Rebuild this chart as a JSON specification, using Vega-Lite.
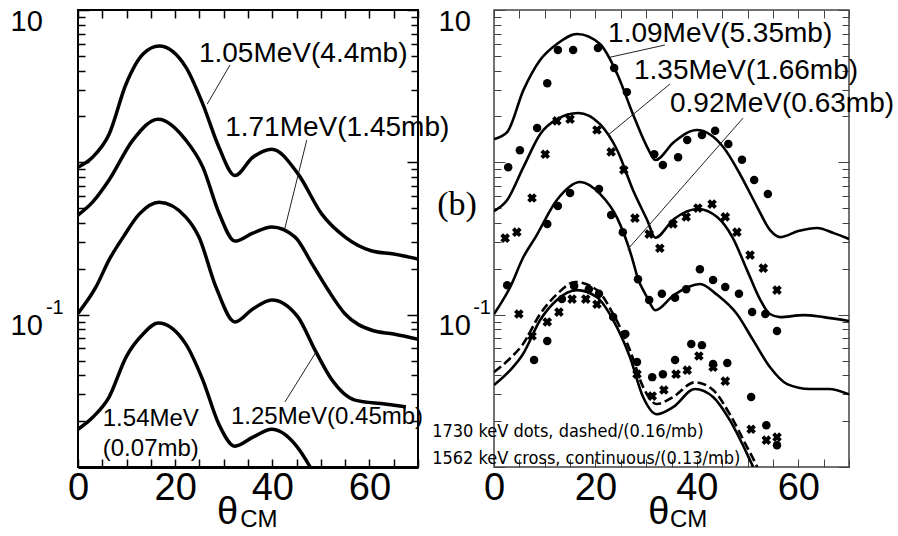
{
  "$schema": "https://vega.github.io/schema/vega-lite/v6.json",
  "padding": {"left": 5, "top": 6, "right": 0, "bottom": 0},
  "spacing": 76,
  "bounds": "flush",
  "config": {"font": "Liberation Sans", "axis": {"grid": false}, "view": {"stroke": null}},
  "datasets": {
    "left_curves": [
      {"E": "1.05 MeV", "x": 0, "y": 0.93}, {"E": "1.05 MeV", "x": 3, "y": 1.08}, {"E": "1.05 MeV", "x": 6.4, "y": 1.53}, {"E": "1.05 MeV", "x": 9.9, "y": 3.27}, {"E": "1.05 MeV", "x": 13.4, "y": 5.14}, {"E": "1.05 MeV", "x": 16.7, "y": 5.8}, {"E": "1.05 MeV", "x": 22.2, "y": 4.22}, {"E": "1.05 MeV", "x": 25.7, "y": 2.41}, {"E": "1.05 MeV", "x": 29, "y": 1.26}, {"E": "1.05 MeV", "x": 32.3, "y": 0.82}, {"E": "1.05 MeV", "x": 36, "y": 1.08}, {"E": "1.05 MeV", "x": 39.9, "y": 1.22}, {"E": "1.05 MeV", "x": 45.3, "y": 0.84}, {"E": "1.05 MeV", "x": 50.2, "y": 0.457}, {"E": "1.05 MeV", "x": 55, "y": 0.323}, {"E": "1.05 MeV", "x": 60.5, "y": 0.262}, {"E": "1.05 MeV", "x": 65, "y": 0.25}, {"E": "1.05 MeV", "x": 70, "y": 0.232},
      {"E": "1.71 MeV", "x": 0, "y": 0.451}, {"E": "1.71 MeV", "x": 3, "y": 0.548}, {"E": "1.71 MeV", "x": 6.4, "y": 0.766}, {"E": "1.71 MeV", "x": 11.3, "y": 1.4}, {"E": "1.71 MeV", "x": 16.5, "y": 1.92}, {"E": "1.71 MeV", "x": 22.2, "y": 1.4}, {"E": "1.71 MeV", "x": 25.7, "y": 0.93}, {"E": "1.71 MeV", "x": 29, "y": 0.467}, {"E": "1.71 MeV", "x": 32.3, "y": 0.304}, {"E": "1.71 MeV", "x": 36, "y": 0.343}, {"E": "1.71 MeV", "x": 39.9, "y": 0.376}, {"E": "1.71 MeV", "x": 44.7, "y": 0.323}, {"E": "1.71 MeV", "x": 48.2, "y": 0.215}, {"E": "1.71 MeV", "x": 51.5, "y": 0.145}, {"E": "1.71 MeV", "x": 55, "y": 0.101}, {"E": "1.71 MeV", "x": 60.5, "y": 0.079}, {"E": "1.71 MeV", "x": 65, "y": 0.0746}, {"E": "1.71 MeV", "x": 70, "y": 0.069},
      {"E": "1.25 MeV", "x": 0, "y": 0.102}, {"E": "1.25 MeV", "x": 3.7, "y": 0.152}, {"E": "1.25 MeV", "x": 6.4, "y": 0.229}, {"E": "1.25 MeV", "x": 9.3, "y": 0.323}, {"E": "1.25 MeV", "x": 12.6, "y": 0.457}, {"E": "1.25 MeV", "x": 16.7, "y": 0.547}, {"E": "1.25 MeV", "x": 22.2, "y": 0.437}, {"E": "1.25 MeV", "x": 24.9, "y": 0.323}, {"E": "1.25 MeV", "x": 28.4, "y": 0.152}, {"E": "1.25 MeV", "x": 32.3, "y": 0.0895}, {"E": "1.25 MeV", "x": 36, "y": 0.109}, {"E": "1.25 MeV", "x": 39.9, "y": 0.125}, {"E": "1.25 MeV", "x": 45.3, "y": 0.0964}, {"E": "1.25 MeV", "x": 48.8, "y": 0.0585}, {"E": "1.25 MeV", "x": 52.3, "y": 0.0372}, {"E": "1.25 MeV", "x": 57, "y": 0.0275}, {"E": "1.25 MeV", "x": 63.2, "y": 0.0259}, {"E": "1.25 MeV", "x": 67.5, "y": 0.0248},
      {"E": "1.54 MeV", "x": 0, "y": 0.0177}, {"E": "1.54 MeV", "x": 3.1, "y": 0.0213}, {"E": "1.54 MeV", "x": 6.4, "y": 0.0288}, {"E": "1.54 MeV", "x": 9.9, "y": 0.0527}, {"E": "1.54 MeV", "x": 13.4, "y": 0.0746}, {"E": "1.54 MeV", "x": 16.5, "y": 0.0881}, {"E": "1.54 MeV", "x": 22.2, "y": 0.0641}, {"E": "1.54 MeV", "x": 25.7, "y": 0.0372}, {"E": "1.54 MeV", "x": 29, "y": 0.0191}, {"E": "1.54 MeV", "x": 32.3, "y": 0.0137}, {"E": "1.54 MeV", "x": 36, "y": 0.0157}, {"E": "1.54 MeV", "x": 39.9, "y": 0.0177}, {"E": "1.54 MeV", "x": 44.7, "y": 0.0141}, {"E": "1.54 MeV", "x": 47.8, "y": 0.01}, {"E": "1.54 MeV", "x": 49.5, "y": 0.0079}
    ],
    "left_leaders": [
      {"x": 31.3, "y": 4.36, "x2": 26.6, "y2": 2.41},
      {"x": 47.1, "y": 1.4, "x2": 42.6, "y2": 0.37},
      {"x": 42.6, "y": 0.0267, "x2": 49.0, "y2": 0.0568}
    ],
    "left_big_labels": [
      {"t": "1.05MeV(4.4mb)", "x": 24.9, "y": 4.56},
      {"t": "1.71MeV(1.45mb)", "x": 30.3, "y": 1.49}
    ],
    "left_small_labels": [
      {"t": "1.25MeV(0.45mb)", "x": 31.5, "y": 0.0191},
      {"t": "1.54MeV", "x": 5.1, "y": 0.0185},
      {"t": "(0.07mb)", "x": 5.1, "y": 0.0118},
      {"t": "CM", "x": 33.4, "y": 0.00403}
    ],
    "left_theta": [{"t": "θ", "x": 28.6, "y": 0.00422}],
    "left_exponent": [{"t": "-1", "x": -6.6, "y": 0.101}],
    "right_curves": [
      {"E": "1.09 MeV", "x": 0, "y": 1.42}, {"E": "1.09 MeV", "x": 2.6, "y": 1.58}, {"E": "1.09 MeV", "x": 5.8, "y": 2.98}, {"E": "1.09 MeV", "x": 9.1, "y": 4.7}, {"E": "1.09 MeV", "x": 12.4, "y": 5.98}, {"E": "1.09 MeV", "x": 16.4, "y": 6.96}, {"E": "1.09 MeV", "x": 20.9, "y": 5.98}, {"E": "1.09 MeV", "x": 24.3, "y": 3.8}, {"E": "1.09 MeV", "x": 27.4, "y": 2.07}, {"E": "1.09 MeV", "x": 30.2, "y": 1.26}, {"E": "1.09 MeV", "x": 31.8, "y": 1.035}, {"E": "1.09 MeV", "x": 35.5, "y": 1.36}, {"E": "1.09 MeV", "x": 40, "y": 1.63}, {"E": "1.09 MeV", "x": 45.2, "y": 1.26}, {"E": "1.09 MeV", "x": 48.5, "y": 0.838}, {"E": "1.09 MeV", "x": 51.9, "y": 0.509}, {"E": "1.09 MeV", "x": 54.4, "y": 0.36}, {"E": "1.09 MeV", "x": 56.4, "y": 0.323}, {"E": "1.09 MeV", "x": 60, "y": 0.354}, {"E": "1.09 MeV", "x": 63.7, "y": 0.371}, {"E": "1.09 MeV", "x": 67, "y": 0.343}, {"E": "1.09 MeV", "x": 70, "y": 0.314},
      {"E": "1.35 MeV", "x": 0, "y": 0.479}, {"E": "1.35 MeV", "x": 2.6, "y": 0.566}, {"E": "1.35 MeV", "x": 5.8, "y": 0.93}, {"E": "1.35 MeV", "x": 9.1, "y": 1.53}, {"E": "1.35 MeV", "x": 12.4, "y": 1.92}, {"E": "1.35 MeV", "x": 16.6, "y": 2.11}, {"E": "1.35 MeV", "x": 20.9, "y": 1.78}, {"E": "1.35 MeV", "x": 24.3, "y": 1.2}, {"E": "1.35 MeV", "x": 27.4, "y": 0.658}, {"E": "1.35 MeV", "x": 30.2, "y": 0.418}, {"E": "1.35 MeV", "x": 31.8, "y": 0.32}, {"E": "1.35 MeV", "x": 35.5, "y": 0.425}, {"E": "1.35 MeV", "x": 40.2, "y": 0.494}, {"E": "1.35 MeV", "x": 44, "y": 0.437}, {"E": "1.35 MeV", "x": 47, "y": 0.323}, {"E": "1.35 MeV", "x": 49.9, "y": 0.196}, {"E": "1.35 MeV", "x": 52.5, "y": 0.125}, {"E": "1.35 MeV", "x": 54.4, "y": 0.101}, {"E": "1.35 MeV", "x": 56.4, "y": 0.0964}, {"E": "1.35 MeV", "x": 61, "y": 0.0993}, {"E": "1.35 MeV", "x": 65, "y": 0.0964}, {"E": "1.35 MeV", "x": 70, "y": 0.0908},
      {"E": "0.92 MeV", "x": 0, "y": 0.101}, {"E": "0.92 MeV", "x": 3.2, "y": 0.152}, {"E": "0.92 MeV", "x": 5.8, "y": 0.239}, {"E": "0.92 MeV", "x": 8.2, "y": 0.323}, {"E": "0.92 MeV", "x": 12.4, "y": 0.566}, {"E": "0.92 MeV", "x": 17, "y": 0.743}, {"E": "0.92 MeV", "x": 20.9, "y": 0.62}, {"E": "0.92 MeV", "x": 24.3, "y": 0.43}, {"E": "0.92 MeV", "x": 27.4, "y": 0.225}, {"E": "0.92 MeV", "x": 28.2, "y": 0.18}, {"E": "0.92 MeV", "x": 30.2, "y": 0.13}, {"E": "0.92 MeV", "x": 31.8, "y": 0.107}, {"E": "0.92 MeV", "x": 35.5, "y": 0.135}, {"E": "0.92 MeV", "x": 40.6, "y": 0.159}, {"E": "0.92 MeV", "x": 44, "y": 0.135}, {"E": "0.92 MeV", "x": 47.9, "y": 0.101}, {"E": "0.92 MeV", "x": 51.1, "y": 0.068}, {"E": "0.92 MeV", "x": 54.4, "y": 0.0453}, {"E": "0.92 MeV", "x": 57.8, "y": 0.035}, {"E": "0.92 MeV", "x": 62.3, "y": 0.0325}, {"E": "0.92 MeV", "x": 66, "y": 0.0325}, {"E": "0.92 MeV", "x": 70, "y": 0.03},
      {"E": "1562 keV", "x": 0, "y": 0.0345}, {"E": "1562 keV", "x": 3.2, "y": 0.0432}, {"E": "1562 keV", "x": 5.7, "y": 0.055}, {"E": "1562 keV", "x": 9.1, "y": 0.0922}, {"E": "1562 keV", "x": 12.4, "y": 0.125}, {"E": "1562 keV", "x": 16.4, "y": 0.145}, {"E": "1562 keV", "x": 20.3, "y": 0.13}, {"E": "1562 keV", "x": 23.5, "y": 0.0922}, {"E": "1562 keV", "x": 26.8, "y": 0.0527}, {"E": "1562 keV", "x": 29.4, "y": 0.0288}, {"E": "1562 keV", "x": 32.1, "y": 0.0222}, {"E": "1562 keV", "x": 35.3, "y": 0.0247}, {"E": "1562 keV", "x": 39.6, "y": 0.0325}, {"E": "1562 keV", "x": 43.2, "y": 0.0288}, {"E": "1562 keV", "x": 46.5, "y": 0.0203}, {"E": "1562 keV", "x": 49.9, "y": 0.0122}, {"E": "1562 keV", "x": 51.1, "y": 0.01}, {"E": "1562 keV", "x": 52.5, "y": 0.0079},
      {"E": "1730 keV", "x": 0, "y": 0.042}, {"E": "1730 keV", "x": 3, "y": 0.051}, {"E": "1730 keV", "x": 5.7, "y": 0.064}, {"E": "1730 keV", "x": 9.1, "y": 0.101}, {"E": "1730 keV", "x": 12.4, "y": 0.136}, {"E": "1730 keV", "x": 16, "y": 0.164}, {"E": "1730 keV", "x": 20.3, "y": 0.145}, {"E": "1730 keV", "x": 23.5, "y": 0.101}, {"E": "1730 keV", "x": 26.8, "y": 0.0586}, {"E": "1730 keV", "x": 29.4, "y": 0.0335}, {"E": "1730 keV", "x": 32.1, "y": 0.0259}, {"E": "1730 keV", "x": 35.3, "y": 0.0288}, {"E": "1730 keV", "x": 39.6, "y": 0.036}, {"E": "1730 keV", "x": 43.2, "y": 0.032}, {"E": "1730 keV", "x": 46.5, "y": 0.0222}, {"E": "1730 keV", "x": 49.9, "y": 0.0135}, {"E": "1730 keV", "x": 51.6, "y": 0.0105}, {"E": "1730 keV", "x": 53, "y": 0.0082}
    ],
    "right_points": [
      {"E": "1.09 MeV", "kind": "dot", "x": 2.8, "y": 0.929}, {"E": "1.09 MeV", "kind": "dot", "x": 5.1, "y": 1.2}, {"E": "1.09 MeV", "kind": "dot", "x": 8.5, "y": 1.68}, {"E": "1.09 MeV", "kind": "dot", "x": 10.5, "y": 3.31}, {"E": "1.09 MeV", "kind": "dot", "x": 12.6, "y": 5.46}, {"E": "1.09 MeV", "kind": "dot", "x": 15.6, "y": 5.46}, {"E": "1.09 MeV", "kind": "dot", "x": 20.5, "y": 5.63}, {"E": "1.09 MeV", "kind": "dot", "x": 23.7, "y": 4.16}, {"E": "1.09 MeV", "kind": "dot", "x": 26.2, "y": 2.89}, {"E": "1.09 MeV", "kind": "dot", "x": 31.6, "y": 1.13}, {"E": "1.09 MeV", "kind": "dot", "x": 33.3, "y": 0.96}, {"E": "1.09 MeV", "kind": "dot", "x": 36.3, "y": 1.08}, {"E": "1.09 MeV", "kind": "dot", "x": 38.1, "y": 1.4}, {"E": "1.09 MeV", "kind": "dot", "x": 41.0, "y": 1.51}, {"E": "1.09 MeV", "kind": "dot", "x": 43.6, "y": 1.61}, {"E": "1.09 MeV", "kind": "dot", "x": 46.2, "y": 1.32}, {"E": "1.09 MeV", "kind": "dot", "x": 48.9, "y": 1.04}, {"E": "1.09 MeV", "kind": "dot", "x": 51.3, "y": 0.766}, {"E": "1.09 MeV", "kind": "dot", "x": 54.0, "y": 0.62},
      {"E": "1.35 MeV", "kind": "cross", "x": 2.2, "y": 0.318}, {"E": "1.35 MeV", "kind": "cross", "x": 4.5, "y": 0.348}, {"E": "1.35 MeV", "kind": "cross", "x": 7.5, "y": 0.583}, {"E": "1.35 MeV", "kind": "cross", "x": 10.1, "y": 1.13}, {"E": "1.35 MeV", "kind": "cross", "x": 12.4, "y": 1.87}, {"E": "1.35 MeV", "kind": "cross", "x": 15.0, "y": 1.92}, {"E": "1.35 MeV", "kind": "cross", "x": 20.3, "y": 1.63}, {"E": "1.35 MeV", "kind": "cross", "x": 23.1, "y": 1.17}, {"E": "1.35 MeV", "kind": "cross", "x": 25.6, "y": 0.89}, {"E": "1.35 MeV", "kind": "cross", "x": 27.8, "y": 0.43}, {"E": "1.35 MeV", "kind": "cross", "x": 30.6, "y": 0.338}, {"E": "1.35 MeV", "kind": "cross", "x": 32.7, "y": 0.273}, {"E": "1.35 MeV", "kind": "cross", "x": 35.3, "y": 0.394}, {"E": "1.35 MeV", "kind": "cross", "x": 37.9, "y": 0.438}, {"E": "1.35 MeV", "kind": "cross", "x": 40.2, "y": 0.501}, {"E": "1.35 MeV", "kind": "cross", "x": 43.0, "y": 0.532}, {"E": "1.35 MeV", "kind": "cross", "x": 45.6, "y": 0.438}, {"E": "1.35 MeV", "kind": "cross", "x": 47.9, "y": 0.348}, {"E": "1.35 MeV", "kind": "cross", "x": 50.5, "y": 0.246}, {"E": "1.35 MeV", "kind": "cross", "x": 53.1, "y": 0.202}, {"E": "1.35 MeV", "kind": "cross", "x": 55.8, "y": 0.145},
      {"E": "0.92 MeV", "kind": "dot", "x": 2.6, "y": 0.156}, {"E": "0.92 MeV", "kind": "dot", "x": 10.5, "y": 0.394}, {"E": "0.92 MeV", "kind": "dot", "x": 12.6, "y": 0.517}, {"E": "0.92 MeV", "kind": "dot", "x": 15.0, "y": 0.629}, {"E": "0.92 MeV", "kind": "dot", "x": 20.7, "y": 0.668}, {"E": "0.92 MeV", "kind": "dot", "x": 23.1, "y": 0.451}, {"E": "0.92 MeV", "kind": "dot", "x": 25.4, "y": 0.348}, {"E": "0.92 MeV", "kind": "dot", "x": 28.4, "y": 0.171}, {"E": "0.92 MeV", "kind": "dot", "x": 30.6, "y": 0.125}, {"E": "0.92 MeV", "kind": "dot", "x": 33.1, "y": 0.137}, {"E": "0.92 MeV", "kind": "dot", "x": 35.7, "y": 0.129}, {"E": "0.92 MeV", "kind": "dot", "x": 37.9, "y": 0.147}, {"E": "0.92 MeV", "kind": "dot", "x": 40.6, "y": 0.199}, {"E": "0.92 MeV", "kind": "dot", "x": 43.2, "y": 0.169}, {"E": "0.92 MeV", "kind": "dot", "x": 45.6, "y": 0.152}, {"E": "0.92 MeV", "kind": "dot", "x": 48.3, "y": 0.137}, {"E": "0.92 MeV", "kind": "dot", "x": 50.9, "y": 0.104}, {"E": "0.92 MeV", "kind": "dot", "x": 53.5, "y": 0.101}, {"E": "0.92 MeV", "kind": "dot", "x": 55.8, "y": 0.078},
      {"E": "1730 keV", "kind": "dot", "x": 7.9, "y": 0.0504}, {"E": "1730 keV", "kind": "dot", "x": 10.5, "y": 0.0671}, {"E": "1730 keV", "kind": "dot", "x": 13.4, "y": 0.1265}, {"E": "1730 keV", "kind": "dot", "x": 15.8, "y": 0.154}, {"E": "1730 keV", "kind": "dot", "x": 18.7, "y": 0.147}, {"E": "1730 keV", "kind": "dot", "x": 20.7, "y": 0.137}, {"E": "1730 keV", "kind": "dot", "x": 23.5, "y": 0.0964}, {"E": "1730 keV", "kind": "dot", "x": 25.9, "y": 0.0746}, {"E": "1730 keV", "kind": "dot", "x": 28.2, "y": 0.0489}, {"E": "1730 keV", "kind": "dot", "x": 31.2, "y": 0.0389}, {"E": "1730 keV", "kind": "dot", "x": 33.3, "y": 0.0407}, {"E": "1730 keV", "kind": "dot", "x": 35.7, "y": 0.0504}, {"E": "1730 keV", "kind": "dot", "x": 38.9, "y": 0.0641}, {"E": "1730 keV", "kind": "dot", "x": 41.0, "y": 0.0631}, {"E": "1730 keV", "kind": "dot", "x": 43.2, "y": 0.0474}, {"E": "1730 keV", "kind": "dot", "x": 46.0, "y": 0.0481}, {"E": "1730 keV", "kind": "dot", "x": 50.7, "y": 0.0288}, {"E": "1730 keV", "kind": "dot", "x": 53.7, "y": 0.0188}, {"E": "1730 keV", "kind": "dot", "x": 55.8, "y": 0.0139},
      {"E": "1562 keV", "kind": "cross", "x": 4.9, "y": 0.101}, {"E": "1562 keV", "kind": "cross", "x": 7.5, "y": 0.0724}, {"E": "1562 keV", "kind": "cross", "x": 10.5, "y": 0.0895}, {"E": "1562 keV", "kind": "cross", "x": 12.8, "y": 0.104}, {"E": "1562 keV", "kind": "cross", "x": 15.4, "y": 0.1265}, {"E": "1562 keV", "kind": "cross", "x": 18.1, "y": 0.1265}, {"E": "1562 keV", "kind": "cross", "x": 20.3, "y": 0.117}, {"E": "1562 keV", "kind": "cross", "x": 28.2, "y": 0.0407}, {"E": "1562 keV", "kind": "cross", "x": 31.2, "y": 0.0292}, {"E": "1562 keV", "kind": "cross", "x": 33.5, "y": 0.032}, {"E": "1562 keV", "kind": "cross", "x": 35.9, "y": 0.0407}, {"E": "1562 keV", "kind": "cross", "x": 38.1, "y": 0.0432}, {"E": "1562 keV", "kind": "cross", "x": 40.4, "y": 0.0535}, {"E": "1562 keV", "kind": "cross", "x": 43.2, "y": 0.0452}, {"E": "1562 keV", "kind": "cross", "x": 45.6, "y": 0.0366}, {"E": "1562 keV", "kind": "cross", "x": 50.7, "y": 0.0177}, {"E": "1562 keV", "kind": "cross", "x": 53.7, "y": 0.015}, {"E": "1562 keV", "kind": "cross", "x": 55.8, "y": 0.0157}
    ],
    "right_leaders": [
      {"x": 33.7, "y": 5.89, "x2": 22.9, "y2": 4.9},
      {"x": 34.7, "y": 3.27, "x2": 22.5, "y2": 1.51},
      {"x": 49.1, "y": 1.95, "x2": 26.4, "y2": 0.269}
    ],
    "right_big_labels": [
      {"t": "1.09MeV(5.35mb)", "x": 22.5, "y": 6.17},
      {"t": "1.35MeV(1.66mb)", "x": 27.6, "y": 3.52},
      {"t": "0.92MeV(0.63mb)", "x": 34.7, "y": 2.14}
    ],
    "right_notes": [
      {"t": "1730 keV dots, dashed/(0.16/mb)", "x": -12.2, "y": 0.0158},
      {"t": "1562 keV cross, continuous/(0.13/mb)", "x": -12.2, "y": 0.0104}
    ],
    "right_panel_tag": [{"t": "(b)", "x": -11.2, "y": 0.451}],
    "right_theta": [{"t": "θ", "x": 30.4, "y": 0.00422}],
    "right_sub": [{"t": "CM", "x": 34.7, "y": 0.00403}],
    "right_exponent": [{"t": "-1", "x": -4.1, "y": 0.101}]
  },
  "hconcat": [
    {
      "width": 340,
      "height": 457,
      "view": {"stroke": "black", "strokeWidth": 2},
      "resolve": {"axis": {"x": "independent", "y": "independent"}},
      "layer": [
        {
          "data": {"name": "left_curves"},
          "mark": {"type": "line", "color": "black", "strokeWidth": 3.5, "interpolate": "monotone", "clip": true},
          "encoding": {
            "x": {"field": "x", "type": "quantitative", "scale": {"domain": [0, 70], "nice": false},
              "axis": {"orient": "bottom", "title": null, "values": [0, 5, 10, 15, 20, 25, 30, 35, 40, 45, 50, 55, 60, 65, 70],
                "labelExpr": "datum.value % 20 === 0 ? datum.label : ''", "labelFontSize": 38, "labelColor": "black", "labelBaseline": "top",
                "labelFlush": false, "labelOverlap": false, "labelPadding": 10, "tickSize": -8, "tickColor": "black", "tickWidth": 1.5,
                "domainColor": "black", "domainWidth": 3}},
            "y": {"field": "y", "type": "quantitative", "scale": {"type": "log", "domain": [0.01, 10], "nice": false},
              "axis": {"orient": "left", "title": null, "values": [0.01, 0.02, 0.03, 0.04, 0.05, 0.06, 0.07, 0.08, 0.09, 0.1, 0.2, 0.3, 0.4, 0.5, 0.6, 0.7, 0.8, 0.9, 1, 2, 3, 4, 5, 6, 7, 8, 9, 10],
                "labelExpr": "datum.value === 10 || datum.value === 0.1 ? '10' : ''", "labelFontSize": 29, "labelColor": "black",
                "labelAlign": "left", "labelBaseline": "top", "labelOffset": -3, "labelFlush": false, "labelOverlap": false, "labelPadding": 79,
                "tickSize": {"condition": {"test": "datum.value === 0.01 || datum.value === 0.1 || datum.value === 1 || datum.value === 10", "value": -11}, "value": -7},
                "tickColor": "black", "tickWidth": 1.5, "domain": false}},
            "detail": {"field": "E"}
          }
        },
        {
          "data": {"name": "left_leaders"},
          "mark": {"type": "rule", "color": "#222", "strokeWidth": 1},
          "encoding": {
            "x": {"field": "x", "type": "quantitative",
              "axis": {"orient": "top", "title": null, "labels": false, "domain": false, "values": [0, 5, 10, 15, 20, 25, 30, 35, 40, 45, 50, 55, 60, 65, 70], "tickSize": -8, "tickColor": "black", "tickWidth": 1.5}},
            "y": {"field": "y", "type": "quantitative",
              "axis": {"orient": "right", "title": null, "labels": false, "domain": false, "values": [0.01, 0.02, 0.03, 0.04, 0.05, 0.06, 0.07, 0.08, 0.09, 0.1, 0.2, 0.3, 0.4, 0.5, 0.6, 0.7, 0.8, 0.9, 1, 2, 3, 4, 5, 6, 7, 8, 9, 10],
                "tickSize": {"condition": {"test": "datum.value === 0.01 || datum.value === 0.1 || datum.value === 1 || datum.value === 10", "value": -11}, "value": -7},
                "tickColor": "black", "tickWidth": 1.5}},
            "x2": {"field": "x2"},
            "y2": {"field": "y2"}
          }
        },
        {
          "data": {"name": "left_big_labels"},
          "mark": {"type": "text", "align": "left", "baseline": "alphabetic", "fontSize": 28, "color": "black"},
          "encoding": {
            "x": {"field": "x", "type": "quantitative", "axis": null},
            "y": {"field": "y", "type": "quantitative", "axis": null},
            "text": {"field": "t"}
          }
        },
        {
          "data": {"name": "left_small_labels"},
          "mark": {"type": "text", "align": "left", "baseline": "alphabetic", "fontSize": 24, "color": "black"},
          "encoding": {
            "x": {"field": "x", "type": "quantitative", "axis": null},
            "y": {"field": "y", "type": "quantitative", "axis": null},
            "text": {"field": "t"}
          }
        },
        {
          "data": {"name": "left_theta"},
          "mark": {"type": "text", "align": "left", "baseline": "alphabetic", "fontSize": 38, "color": "black"},
          "encoding": {
            "x": {"field": "x", "type": "quantitative", "axis": null},
            "y": {"field": "y", "type": "quantitative", "axis": null},
            "text": {"field": "t"}
          }
        },
        {
          "data": {"name": "left_exponent"},
          "mark": {"type": "text", "align": "left", "baseline": "alphabetic", "fontSize": 20, "color": "black"},
          "encoding": {
            "x": {"field": "x", "type": "quantitative", "axis": null},
            "y": {"field": "y", "type": "quantitative", "axis": null},
            "text": {"field": "t"}
          }
        }
      ]
    },
    {
      "width": 355,
      "height": 457,
      "view": {"stroke": "#444", "strokeWidth": 1.5},
      "resolve": {"axis": {"x": "independent", "y": "independent"}},
      "layer": [
        {
          "data": {"name": "right_curves"},
          "transform": [{"filter": "datum.E !== '1730 keV'"}],
          "mark": {"type": "line", "color": "black", "strokeWidth": 2.6, "interpolate": "monotone", "clip": true},
          "encoding": {
            "x": {"field": "x", "type": "quantitative", "scale": {"domain": [0, 70], "nice": false},
              "axis": {"orient": "bottom", "title": null, "values": [0, 5, 10, 15, 20, 25, 30, 35, 40, 45, 50, 55, 60, 65, 70],
                "labelExpr": "datum.value % 20 === 0 ? datum.label : ''", "labelFontSize": 38, "labelColor": "black", "labelBaseline": "top",
                "labelFlush": false, "labelOverlap": false, "labelPadding": 10, "tickSize": -8, "tickColor": "#444", "tickWidth": 1, "domain": false}},
            "y": {"field": "y", "type": "quantitative", "scale": {"type": "log", "domain": [0.01, 10], "nice": false},
              "axis": {"orient": "left", "title": null, "values": [0.01, 0.02, 0.03, 0.04, 0.05, 0.06, 0.07, 0.08, 0.09, 0.1, 0.2, 0.3, 0.4, 0.5, 0.6, 0.7, 0.8, 0.9, 1, 2, 3, 4, 5, 6, 7, 8, 9, 10],
                "labelExpr": "datum.value === 10 || datum.value === 0.1 ? '10' : ''", "labelFontSize": 29, "labelColor": "black",
                "labelAlign": "left", "labelBaseline": "top", "labelOffset": -3, "labelFlush": false, "labelOverlap": false, "labelPadding": 67,
                "tickSize": {"condition": {"test": "datum.value === 0.01 || datum.value === 0.1 || datum.value === 1 || datum.value === 10", "value": -11}, "value": -7},
                "tickColor": "#444", "tickWidth": 1, "domain": false}},
            "detail": {"field": "E"}
          }
        },
        {
          "data": {"name": "right_curves"},
          "transform": [{"filter": "datum.E === '1730 keV'"}],
          "mark": {"type": "line", "color": "black", "strokeWidth": 2.6, "strokeDash": [9, 4], "interpolate": "monotone", "clip": true},
          "encoding": {
            "x": {"field": "x", "type": "quantitative", "axis": null},
            "y": {"field": "y", "type": "quantitative", "axis": null}
          }
        },
        {
          "data": {"name": "right_points"},
          "transform": [{"filter": "datum.kind === 'dot'"}],
          "mark": {"type": "point", "shape": "circle", "filled": true, "color": "black", "opacity": 1, "size": 72},
          "encoding": {
            "x": {"field": "x", "type": "quantitative", "axis": null},
            "y": {"field": "y", "type": "quantitative", "axis": null}
          }
        },
        {
          "data": {"name": "right_points"},
          "transform": [{"filter": "datum.kind === 'cross'"}],
          "mark": {"type": "point", "shape": "cross", "filled": true, "color": "black", "opacity": 1, "size": 95, "angle": 45},
          "encoding": {
            "x": {"field": "x", "type": "quantitative", "axis": null},
            "y": {"field": "y", "type": "quantitative", "axis": null}
          }
        },
        {
          "data": {"name": "right_leaders"},
          "mark": {"type": "rule", "color": "#222", "strokeWidth": 1},
          "encoding": {
            "x": {"field": "x", "type": "quantitative",
              "axis": {"orient": "top", "title": null, "labels": false, "domain": false, "values": [0, 5, 10, 15, 20, 25, 30, 35, 40, 45, 50, 55, 60, 65, 70], "tickSize": -8, "tickColor": "#444", "tickWidth": 1}},
            "y": {"field": "y", "type": "quantitative",
              "axis": {"orient": "right", "title": null, "labels": false, "domain": false, "values": [0.01, 0.02, 0.03, 0.04, 0.05, 0.06, 0.07, 0.08, 0.09, 0.1, 0.2, 0.3, 0.4, 0.5, 0.6, 0.7, 0.8, 0.9, 1, 2, 3, 4, 5, 6, 7, 8, 9, 10],
                "tickSize": {"condition": {"test": "datum.value === 0.01 || datum.value === 0.1 || datum.value === 1 || datum.value === 10", "value": -11}, "value": -7},
                "tickColor": "#444", "tickWidth": 1}},
            "x2": {"field": "x2"},
            "y2": {"field": "y2"}
          }
        },
        {
          "data": {"name": "right_big_labels"},
          "mark": {"type": "text", "align": "left", "baseline": "alphabetic", "fontSize": 28, "color": "black"},
          "encoding": {
            "x": {"field": "x", "type": "quantitative", "axis": null},
            "y": {"field": "y", "type": "quantitative", "axis": null},
            "text": {"field": "t"}
          }
        },
        {
          "data": {"name": "right_notes"},
          "mark": {"type": "text", "align": "left", "baseline": "alphabetic", "fontSize": 18, "font": "Liberation Sans Narrow, DejaVu Sans Condensed, Liberation Sans", "color": "black"},
          "encoding": {
            "x": {"field": "x", "type": "quantitative", "axis": null},
            "y": {"field": "y", "type": "quantitative", "axis": null},
            "text": {"field": "t"}
          }
        },
        {
          "data": {"name": "right_panel_tag"},
          "mark": {"type": "text", "align": "left", "baseline": "alphabetic", "fontSize": 34, "font": "Liberation Serif", "color": "black"},
          "encoding": {
            "x": {"field": "x", "type": "quantitative", "axis": null},
            "y": {"field": "y", "type": "quantitative", "axis": null},
            "text": {"field": "t"}
          }
        },
        {
          "data": {"name": "right_theta"},
          "mark": {"type": "text", "align": "left", "baseline": "alphabetic", "fontSize": 38, "color": "black"},
          "encoding": {
            "x": {"field": "x", "type": "quantitative", "axis": null},
            "y": {"field": "y", "type": "quantitative", "axis": null},
            "text": {"field": "t"}
          }
        },
        {
          "data": {"name": "right_sub"},
          "mark": {"type": "text", "align": "left", "baseline": "alphabetic", "fontSize": 24, "color": "black"},
          "encoding": {
            "x": {"field": "x", "type": "quantitative", "axis": null},
            "y": {"field": "y", "type": "quantitative", "axis": null},
            "text": {"field": "t"}
          }
        },
        {
          "data": {"name": "right_exponent"},
          "mark": {"type": "text", "align": "left", "baseline": "alphabetic", "fontSize": 20, "color": "black"},
          "encoding": {
            "x": {"field": "x", "type": "quantitative", "axis": null},
            "y": {"field": "y", "type": "quantitative", "axis": null},
            "text": {"field": "t"}
          }
        }
      ]
    }
  ]
}
